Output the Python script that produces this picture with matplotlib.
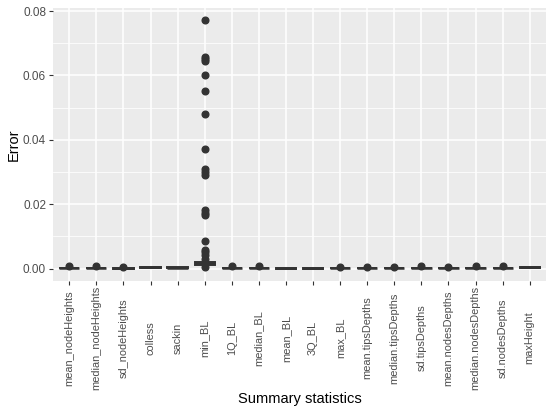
import matplotlib
matplotlib.use("Agg")
import matplotlib.pyplot as plt
from matplotlib.ticker import MultipleLocator

plt.rcParams['font.family'] = ['Liberation Sans', 'DejaVu Sans']

categories = ["mean_nodeHeights", "median_nodeHeights", "sd_nodeHeights", "colless",
              "sackin", "min_BL", "1Q_BL", "median_BL", "mean_BL", "3Q_BL", "max_BL",
              "mean.tipsDepths", "median.tipsDepths", "sd.tipsDepths",
              "mean.nodesDepths", "median.nodesDepths", "sd.nodesDepths", "maxHeight"]

whislo = [0.0000, 0.0000, 0.0000, 0.0002, 0.0001, 0.0002, 0.0000, 0.0000, 0.0000,
          0.0000, 0.0000, 0.0000, 0.0000, 0.0000, 0.0000, 0.0000, 0.0000, 0.0002]
q1 = [0.0001, 0.0001, 0.0000, 0.0003, 0.0002, 0.0010, 0.0001, 0.0001, 0.0000,
      0.0000, 0.0001, 0.0001, 0.0001, 0.0001, 0.0001, 0.0001, 0.0001, 0.0003]
med = [0.0002, 0.0002, 0.0001, 0.0004, 0.0003, 0.0016, 0.0002, 0.0002, 0.0001,
       0.0001, 0.0002, 0.0002, 0.0002, 0.0002, 0.0002, 0.0002, 0.0002, 0.0004]
q3 = [0.0003, 0.0003, 0.0002, 0.0005, 0.0004, 0.0022, 0.0003, 0.0003, 0.0002,
      0.0002, 0.0003, 0.0003, 0.0003, 0.0003, 0.0003, 0.0003, 0.0003, 0.0005]
whishi = [0.0005, 0.0005, 0.0004, 0.0006, 0.0005, 0.0035, 0.0005, 0.0005, 0.0003,
          0.0003, 0.0005, 0.0005, 0.0005, 0.0006, 0.0005, 0.0006, 0.0006, 0.0006]
outliers = [
    [0.0007],
    [0.0007],
    [0.0006],
    [],
    [],
    [0.0771, 0.0656, 0.0651, 0.0645, 0.0600, 0.0552, 0.0479, 0.0372, 0.0309,
     0.0300, 0.0290, 0.0181, 0.0173, 0.0166, 0.0085, 0.0058, 0.0050, 0.0041,
     0.0029, 0.0004],
    [0.0009],
    [0.0007],
    [],
    [],
    [0.0006],
    [0.0006],
    [0.0006],
    [0.0009],
    [0.0006],
    [0.0008],
    [0.0009],
    [],
]

yticks = [0.00, 0.02, 0.04, 0.06, 0.08]
ytick_labels = ["0.00", "0.02", "0.04", "0.06", "0.08"]

stats = []
for i in range(len(categories)):
    stats.append(dict(med=med[i], q1=q1[i], q3=q3[i], whislo=whislo[i],
                      whishi=whishi[i], fliers=outliers[i], label=categories[i]))

fig = plt.figure(figsize=(5.5, 4.09), dpi=100)
ax_bottom_px, ax_top_px = 281, 8
ax_h_px = ax_bottom_px - ax_top_px
ax = fig.add_axes([53/550, 1-ax_bottom_px/409, (546-53)/550, ax_h_px/409])
ax.set_facecolor('#EBEBEB')

positions = list(range(1, len(categories)+1))
ax.bxp(stats, positions=positions, widths=0.75, patch_artist=True,
       boxprops=dict(facecolor='white', edgecolor='#333333', linewidth=1.4),
       medianprops=dict(color='#333333', linewidth=1.8),
       whiskerprops=dict(color='#333333', linewidth=1.2),
       capprops=dict(linewidth=0),
       flierprops=dict(marker='o', markersize=4.8, markerfacecolor='#333333',
                       markeredgecolor='#333333', linestyle='none'),
       zorder=3)

ax.set_xlim(0.4, len(categories)+0.6)
ymax = 0.0771
ax.set_ylim(-0.05*ymax, ymax*1.05)
ax.set_yticks(yticks)
ax.set_yticklabels(ytick_labels)
ax.yaxis.set_minor_locator(MultipleLocator(0.01))
ax.set_xticks(positions)
ax.set_xticklabels(categories, rotation=90, va='center')

ax.grid(which='major', color='white', linewidth=1.1, zorder=0)
ax.grid(which='minor', axis='y', color='white', linewidth=0.55, zorder=0)
ax.set_axisbelow(True)
for s in ax.spines.values():
    s.set_visible(False)
ax.tick_params(axis='both', which='major', length=3, width=0.8, color='#333333',
               labelsize=8.5, labelcolor='#4D4D4D', pad=2)
# labels centred about 57 px below the panel (≈41 pt), ticks are 3 pt long
ax.tick_params(axis='x', which='major', labelsize=7.9, pad=38)
ax.tick_params(axis='both', which='minor', length=0)

ax.set_xlabel("Summary statistics", fontsize=10.5, va='center')
ax.xaxis.set_label_coords(0.5, -(399 - ax_bottom_px) / ax_h_px)
ax.set_ylabel("Error", fontsize=10.5, labelpad=1.5)

fig.savefig("out.png", dpi=100)
